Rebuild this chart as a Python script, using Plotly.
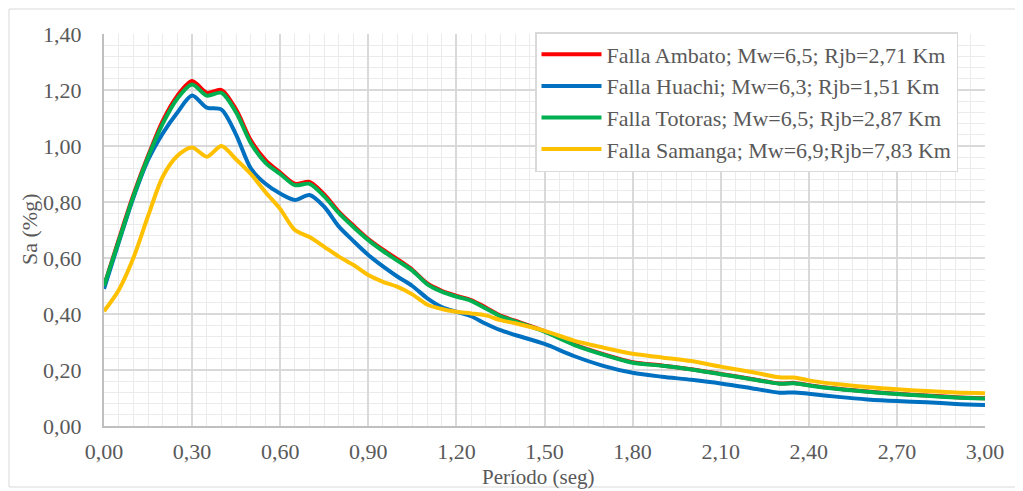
import plotly.graph_objects as go

periodo = [0.00, 0.05, 0.10, 0.15, 0.20, 0.25, 0.30, 0.35, 0.40, 0.45, 0.50, 0.55, 0.60, 0.65, 0.70,
           0.75, 0.80, 0.85, 0.90, 0.95, 1.00, 1.05, 1.10, 1.15, 1.20, 1.25, 1.30, 1.35, 1.40, 1.50,
           1.60, 1.70, 1.80, 1.90, 2.00, 2.10, 2.20, 2.30, 2.35, 2.40, 2.50, 2.60, 2.70, 2.80, 2.90, 3.00]

ambato = [0.50, 0.665, 0.825, 0.965, 1.09, 1.18, 1.232, 1.19, 1.20, 1.13, 1.02, 0.95, 0.905, 0.865, 0.872,
          0.827, 0.765, 0.715, 0.668, 0.63, 0.595, 0.558, 0.51, 0.483, 0.465, 0.45, 0.423, 0.394, 0.376, 0.339,
          0.292, 0.257, 0.228, 0.216, 0.203, 0.186, 0.169, 0.152, 0.154, 0.146, 0.133, 0.123, 0.115, 0.109, 0.103, 0.099]

huachi = [0.49, 0.655, 0.815, 0.95, 1.045, 1.12, 1.18, 1.137, 1.13, 1.04, 0.92, 0.865, 0.83, 0.807, 0.825,
          0.783, 0.712, 0.66, 0.611, 0.57, 0.533, 0.50, 0.457, 0.425, 0.408, 0.392, 0.365, 0.342, 0.325, 0.293,
          0.25, 0.215, 0.19, 0.176, 0.165, 0.152, 0.136, 0.119, 0.12, 0.115, 0.104, 0.095, 0.089, 0.085, 0.079, 0.075]

totoras = [0.50, 0.66, 0.82, 0.96, 1.08, 1.17, 1.22, 1.18, 1.19, 1.12, 1.01, 0.94, 0.90, 0.86, 0.865,
           0.82, 0.76, 0.71, 0.664, 0.625, 0.59, 0.555, 0.507, 0.48, 0.462, 0.447, 0.42, 0.392, 0.374, 0.337,
           0.29, 0.255, 0.226, 0.215, 0.202, 0.185, 0.168, 0.151, 0.153, 0.145, 0.132, 0.122, 0.114, 0.108, 0.102, 0.098]

samanga = [0.41, 0.485, 0.60, 0.75, 0.89, 0.965, 0.995, 0.962, 1.00, 0.952, 0.90, 0.835, 0.775, 0.70, 0.675,
           0.64, 0.605, 0.575, 0.539, 0.515, 0.497, 0.47, 0.434, 0.418, 0.408, 0.402, 0.395, 0.378, 0.367, 0.34,
           0.305, 0.28, 0.258, 0.245, 0.232, 0.212, 0.194, 0.174, 0.173, 0.163, 0.149, 0.139, 0.131, 0.125, 0.12, 0.117]

nombres = ["Falla Ambato; Mw=6,5; Rjb=2,71 Km",
           "Falla Huachi; Mw=6,3; Rjb=1,51 Km",
           "Falla Totoras; Mw=6,5; Rjb=2,87 Km",
           "Falla Samanga; Mw=6,9;Rjb=7,83 Km"]
colores = ["#FF0000", "#0070C0", "#00B050", "#FFC000"]
series = [ambato, huachi, totoras, samanga]

FONT = "Times New Roman, Liberation Serif, DejaVu Serif, serif"
GRAY = "#595959"
FS = 22

# page offset of the figure (default body margin)
OFF = 8
PL, PT, PW, PH = 104, 34, 881, 392   # plot area in page pixels


def px(xp):
    return (xp - PL) / PW


def py(yp):
    return (PT + PH - yp) / PH


fig = go.Figure()
for nombre, color, ys in zip(nombres, colores, series):
    fig.add_trace(go.Scatter(x=periodo, y=ys, mode="lines", name=nombre,
                             line=dict(color=color, width=4, shape="spline", smoothing=0.8)))

fig.update_layout(
    width=1023 - OFF, height=491 - OFF,
    margin=dict(l=PL - OFF, r=1023 - PL - PW, t=PT - OFF, b=491 - PT - PH),
    paper_bgcolor="white", plot_bgcolor="white",
    separators=",.",
    font=dict(family=FONT, size=FS, color=GRAY),
    showlegend=True,
    legend=dict(x=px(535), y=py(32), xanchor="left", yanchor="top",
                bgcolor="white", bordercolor="#D9D9D9", borderwidth=1.5,
                font=dict(family=FONT, size=FS, color=GRAY),
                tracegroupgap=0, itemwidth=60),
    xaxis=dict(range=[0, 3.0], tick0=0, dtick=0.3, tickformat=".2f",
               showgrid=True, gridcolor="#D9D9D9", gridwidth=1.5,
               showline=True, linecolor="#BFBFBF", linewidth=2,
               ticks="", ticklabelstandoff=5, zeroline=False,
               minor=dict(dtick=0.05, tick0=0, showgrid=True, gridcolor="#EBEBEB", gridwidth=1)),
    yaxis=dict(range=[0, 1.4], tick0=0, dtick=0.2, tickformat=".2f",
               showgrid=True, gridcolor="#D9D9D9", gridwidth=1.5,
               showline=True, linecolor="#BFBFBF", linewidth=2,
               ticks="", ticklabelstandoff=16, zeroline=False,
               minor=dict(dtick=0.04, tick0=0, showgrid=True, gridcolor="#EBEBEB", gridwidth=1)),
    annotations=[
        dict(text="Sa (%g)", textangle=-90, xref="paper", yref="paper",
             x=px(29), y=py(230), showarrow=False,
             xanchor="center", yanchor="middle", font=dict(family=FONT, size=FS, color=GRAY)),
        dict(text="Período (seg)", xref="paper", yref="paper",
             x=px(538), y=py(477), showarrow=False,
             xanchor="center", yanchor="middle", font=dict(family=FONT, size=21, color=GRAY)),
    ],
    shapes=[dict(type="rect", xref="paper", yref="paper",
                 x0=px(9), x1=px(1017), y0=py(487), y1=py(9),
                 line=dict(color="#D9D9D9", width=1), layer="below")],
)

fig.write_html("out.html")
